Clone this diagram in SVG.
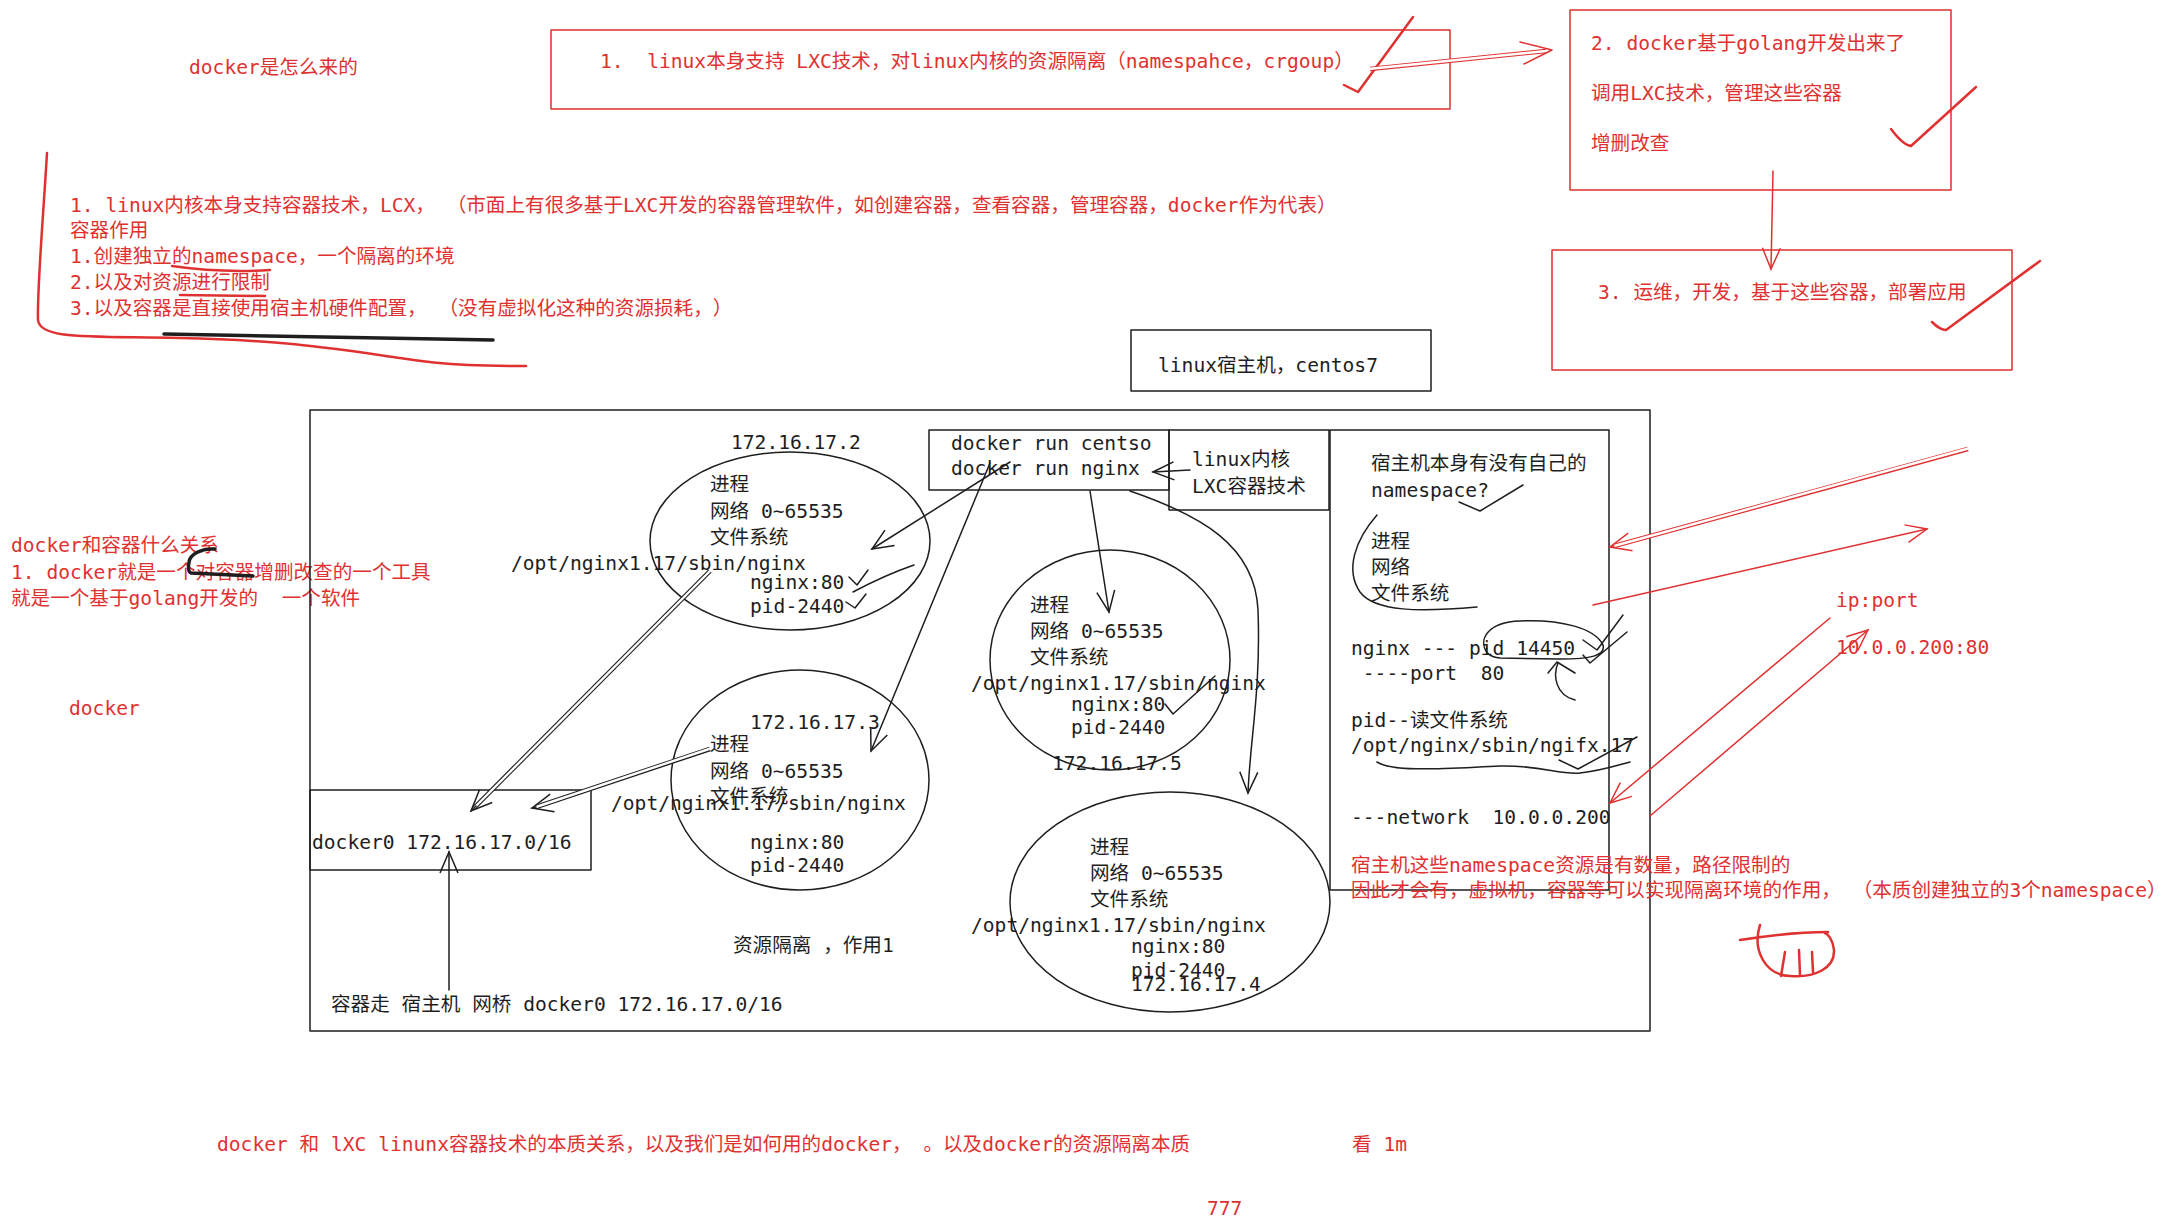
<svg xmlns="http://www.w3.org/2000/svg" width="2178" height="1230" viewBox="0 0 2178 1230">
<defs>
<style>
.t{font-family:"DejaVu Sans Mono","Noto Sans CJK SC",monospace;font-size:19.6px;white-space:pre;text-spacing-trim:space-all}
.k{fill:#1e1e1e}
.r{fill:#e03131}
.ln{fill:none;stroke:#1e1e1e;stroke-width:1.5;stroke-linecap:round;stroke-linejoin:round}
.lr{fill:none;stroke:#e03131;stroke-width:1.5;stroke-linecap:round;stroke-linejoin:round}
.th{stroke-width:3.5}
.tm{stroke-width:2.5}
.wh{fill:none;stroke:#fff;stroke-width:2.4;stroke-linecap:butt}
.dk{fill:none;stroke:#1e1e1e;stroke-width:4.6}
.dr{fill:none;stroke:#e03131;stroke-width:4.6}
</style>
<marker id="ak" viewBox="0 0 24 24" refX="22" refY="12" markerWidth="24" markerHeight="24" markerUnits="userSpaceOnUse" orient="auto"><path d="M1,3 L22,12 L1,21" fill="none" stroke="#1e1e1e" stroke-width="1.5"/></marker>
<marker id="ar" viewBox="0 0 24 24" refX="22" refY="12" markerWidth="24" markerHeight="24" markerUnits="userSpaceOnUse" orient="auto"><path d="M1,3 L22,12 L1,21" fill="none" stroke="#e03131" stroke-width="1.5"/></marker>
</defs>
<rect width="2178" height="1230" fill="#fff"/>

<g id="title"><text class="t r" x="189" y="74">docker是怎么来的</text></g>

<g id="box1">
<rect x="551" y="30" width="899" height="79" class="lr" stroke-width="2"/>
<text class="t r" x="600" y="68">1.  linux本身支持 LXC技术，对linux内核的资源隔离（namespahce，crgoup）</text>
<path class="lr tm" d="M1344,85 L1358,92 L1413,17"/>
</g>

<g id="box2">
<rect x="1570" y="10" width="381" height="180" class="lr"/>
<text class="t r" x="1591" y="50">2. docker基于golang开发出来了</text>
<text class="t r" x="1591" y="100">调用LXC技术，管理这些容器</text>
<text class="t r" x="1591" y="150">增删改查</text>
<path class="lr tm" d="M1891,129 Q1903,145 1911,146 L1976,87"/>
</g>

<g id="box3">
<rect x="1552" y="250" width="460" height="120" class="lr"/>
<text class="t r" x="1598" y="299">3. 运维，开发，基于这些容器，部署应用</text>
<path class="lr tm" d="M1932,322 Q1940,330 1946,330 L2040,261"/>
</g>

<g id="notes">
<path class="lr tm" d="M47,153 C43,220 37,290 38,320 C40,340 90,336 180,338 C280,340 330,348 400,358 C450,366 490,366 526,366"/>
<path class="ln th" d="M164,334 L493,340"/>
<text class="t r" x="70" y="212">1. linux内核本身支持容器技术，LCX， （市面上有很多基于LXC开发的容器管理软件，如创建容器，查看容器，管理容器，docker作为代表）</text>
<text class="t r" x="70" y="237">容器作用</text>
<text class="t r" x="70" y="263">1.创建独立的namespace，一个隔离的环境</text>
<text class="t r" x="70" y="289">2.以及对资源进行限制</text>
<text class="t r" x="70" y="315">3.以及容器是直接使用宿主机硬件配置， （没有虚拟化这种的资源损耗，）</text>
<path class="lr tm" d="M172,266 Q220,273 270,270"/>
<path class="lr tm" d="M180,295 L265,296"/>
</g>

<g id="relation">
<text class="t r" x="11" y="552">docker和容器什么关系</text>
<text class="t r" x="11" y="579">1. docker就是一个对容器增删改查的一个工具</text>
<text class="t r" x="11" y="605">就是一个基于golang开发的  一个软件</text>
<text class="t r" x="69" y="715">docker</text>
<path class="ln th" d="M215,549 C200,548 190,555 189,562 C188,568 188,572 191,573 L253,576"/>
</g>

<g id="host">
<rect x="1131" y="330" width="300" height="61" class="ln"/>
<text class="t k" x="1158" y="372">linux宿主机，centos7</text>
</g>

<g id="mainbox"><rect x="310" y="410" width="1340" height="621" class="ln"/></g>

<g id="c1">
<ellipse cx="790" cy="541" rx="140" ry="89" class="ln"/>
<text class="t k" x="731" y="449">172.16.17.2</text>
<text class="t k" x="710" y="491">进程</text>
<text class="t k" x="710" y="518">网络 0~65535</text>
<text class="t k" x="710" y="544">文件系统</text>
<text class="t k" x="511" y="570">/opt/nginx1.17/sbin/nginx</text>
<text class="t k" x="750" y="589">nginx:80</text>
<text class="t k" x="750" y="613">pid-2440</text>
<path class="ln" stroke-width="3.5" d="M849,577 L857,585 L868,570"/>
<path class="ln" stroke-width="3.5" d="M853,592 Q885,575 914,565"/>
<path class="ln" stroke-width="3.5" d="M846,602 L855,608 L866,594"/>
</g>

<g id="c2">
<ellipse cx="800" cy="780" rx="129" ry="110" class="ln"/>
<text class="t k" x="750" y="729">172.16.17.3</text>
<text class="t k" x="710" y="751">进程</text>
<text class="t k" x="710" y="778">网络 0~65535</text>
<text class="t k" x="710" y="803">文件系统</text>
<text class="t k" x="611" y="810">/opt/nginx1.17/sbin/nginx</text>
<text class="t k" x="750" y="849">nginx:80</text>
<text class="t k" x="750" y="872">pid-2440</text>
</g>

<g id="docker0">
<rect x="310" y="790" width="281" height="80" class="ln"/>
<text class="t k" x="312" y="849">docker0 172.16.17.0/16</text>
</g>

<g id="bridge"><text class="t k" x="331" y="1011">容器走 宿主机 网桥 docker0 172.16.17.0/16</text></g>
<g id="iso"><text class="t k" x="733" y="952">资源隔离 ，作用1</text></g>

<g id="run">
<rect x="929" y="430" width="240" height="60" class="ln"/>
<text class="t k" x="951" y="450">docker run centso</text>
<text class="t k" x="951" y="475">docker run nginx</text>
</g>

<g id="kernel">
<rect x="1169" y="430" width="160" height="80" class="ln"/>
<text class="t k" x="1192" y="466">linux内核</text>
<text class="t k" x="1192" y="493">LXC容器技术</text>
</g>

<g id="c5">
<ellipse cx="1110" cy="660" rx="120" ry="110" class="ln"/>
<text class="t k" x="1030" y="612">进程</text>
<text class="t k" x="1030" y="638">网络 0~65535</text>
<text class="t k" x="1030" y="664">文件系统</text>
<text class="t k" x="971" y="690">/opt/nginx1.17/sbin/nginx</text>
<text class="t k" x="1071" y="711">nginx:80</text>
<text class="t k" x="1071" y="734">pid-2440</text>
<text class="t k" x="1052" y="770">172.16.17.5</text>
<path class="ln" stroke-width="3.5" d="M1165,704 L1173,714 L1215,676"/>
</g>

<g id="c4">
<ellipse cx="1170" cy="902" rx="160" ry="110" class="ln"/>
<text class="t k" x="1090" y="854">进程</text>
<text class="t k" x="1090" y="880">网络 0~65535</text>
<text class="t k" x="1090" y="906">文件系统</text>
<text class="t k" x="971" y="932">/opt/nginx1.17/sbin/nginx</text>
<text class="t k" x="1131" y="953">nginx:80</text>
<text class="t k" x="1131" y="977">pid-2440</text>
<text class="t k" x="1131" y="991">172.16.17.4</text>
</g>

<g id="hostns">
<rect x="1330" y="430" width="279" height="460" class="ln"/>
<text class="t k" x="1371" y="470">宿主机本身有没有自己的</text>
<text class="t k" x="1371" y="497">namespace?</text>
<text class="t k" x="1371" y="548">进程</text>
<text class="t k" x="1371" y="574">网络</text>
<text class="t k" x="1371" y="600">文件系统</text>
<text class="t k" x="1351" y="655">nginx --- pid 14450</text>
<text class="t k" x="1351" y="680"> ----port  80</text>
<text class="t k" x="1351" y="727">pid--读文件系统</text>
<text class="t k" x="1351" y="752">/opt/nginx/sbin/ngifx.17</text>
<text class="t k" x="1351" y="824">---network  10.0.0.200</text>
<text class="t r" x="1351" y="872">宿主机这些namespace资源是有数量，路径限制的</text>
<text class="t r" x="1351" y="897">因此才会有，虚拟机，容器等可以实现隔离环境的作用， （本质创建独立的3个namespace）</text>
<path class="ln" stroke-width="3" d="M1459,502 L1480,511 L1523,485"/>
<path class="ln" stroke-width="3" d="M1377,515 C1355,540 1345,570 1360,592 C1375,612 1420,612 1477,607"/>
<path class="ln" stroke-width="3" d="M1487,653 C1478,640 1487,622 1520,621 C1560,619 1595,628 1603,645 C1606,656 1590,659 1560,659 L1500,658 C1490,657 1484,652 1487,648"/>
<path class="ln" stroke-width="3" d="M1583,640 L1597,650 L1623,615"/>
<path class="ln" stroke-width="3" d="M1583,655 L1590,663 L1627,632"/>
<path class="ln" stroke-width="3" d="M1575,700 C1555,695 1553,675 1558,663"/>
<path class="ln" stroke-width="3" d="M1548,673 L1557,662 L1575,673"/>
<path class="ln" stroke-width="3" d="M1377,762 C1395,773 1450,768 1500,766 C1540,765 1560,775 1580,773 C1600,771 1615,766 1630,762"/>
<path class="ln" stroke-width="3" d="M1559,760 L1578,769 L1637,737"/>
</g>

<g id="ipport">
<text class="t r" x="1836" y="607">ip:port</text>
<text class="t r" x="1836" y="654">10.0.0.200:80</text>
</g>

<g id="doodle">
<path class="lr tm" d="M1740,940 Q1790,932 1828,932"/>
<path class="lr tm" d="M1760,925 C1752,950 1765,975 1790,976 C1815,978 1835,968 1834,950 C1833,940 1828,934 1825,933"/>
<path class="lr tm" d="M1785,952 L1781,976"/>
<path class="lr tm" d="M1799,950 L1800,975"/>
<path class="lr tm" d="M1812,952 L1813,972"/>
</g>

<g id="bottom">
<text class="t r" x="217" y="1151">docker 和 lXC linunx容器技术的本质关系，以及我们是如何用的docker， 。以及docker的资源隔离本质</text>
<text class="t r" x="1352" y="1151">看 1m</text>
<text class="t r" x="1207" y="1215">777</text>
</g>

<g id="connectors">
<path class="dr" d="M1370,69 L1546,51"/><path class="wh" d="M1368,69 L1546,51"/>
<path class="lr" stroke-width="1" d="M1520,42 L1552,50 L1524,64"/>
<path class="lr" d="M1773,171 L1771,269" marker-end="url(#ar)"/>
<path class="ln" d="M1010,462 L872,549" marker-end="url(#ak)"/>
<path class="ln" d="M990,463 L871,751" marker-end="url(#ak)"/>
<path class="ln" d="M1090,491 L1109,612" marker-end="url(#ak)"/>
<path class="ln" d="M1130,491 C1200,515 1255,545 1258,610 C1261,690 1250,740 1248,793" marker-end="url(#ak)"/>
<path class="ln" d="M1190,470 L1153,472" marker-end="url(#ak)"/>
<path class="dk" d="M710,571 L474,808"/><path class="wh" d="M712,569 L474,808"/>
<path class="ln" d="M476,806 L471,811" marker-end="url(#ak)"/>
<path class="dk" d="M710,749 L536,807"/><path class="wh" d="M712,748 L536,807"/>
<path class="ln" d="M536,807 L532,808" marker-end="url(#ak)"/>
<path class="ln" d="M449,990 L449,852" marker-end="url(#ak)"/>
<path class="dr" d="M1968,449 L1614,546"/><path class="wh" d="M1970,448 L1614,546"/>
<path class="lr" d="M1614,546 L1610,547" marker-end="url(#ar)"/>
<path class="lr" d="M1593,605 L1927,529" marker-end="url(#ar)"/>
<path class="lr" d="M1830,618 L1610,803" marker-end="url(#ar)"/>
<path class="lr" d="M1650,816 L1868,630" marker-end="url(#ar)"/>
</g>
</svg>
